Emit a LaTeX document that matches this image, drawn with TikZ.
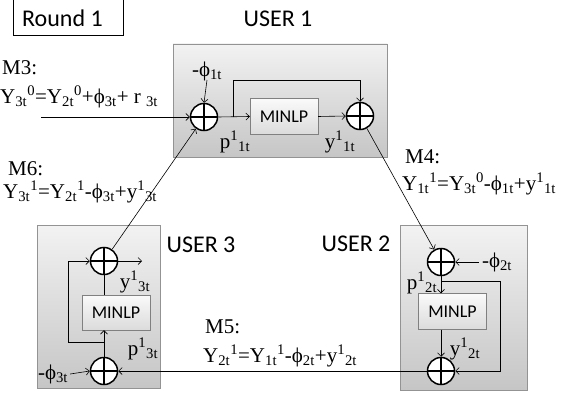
\documentclass[tikz,border=0pt]{standalone}
\usepackage{fontspec}
\setmainfont{Liberation Serif}
\newfontfamily\calibfont{Carlito}
\usetikzlibrary{arrows.meta, positioning, calc}

\begin{document}
\begin{tikzpicture}[x=1pt, y=-1pt]
    % --- Style Definitions ---
    \tikzset{
        % Shaded area of one user
        user box/.style={
            draw=gray!85,
            top color=gray!10,
            bottom color=gray!45,
            inner sep=0pt
        },
        % The solver block
        solver box/.style={
            draw=gray,
            top color=gray!4,
            bottom color=gray!28,
            inner sep=0pt,
            minimum width=68pt,
            minimum height=36pt,
            font=\calibfont\fontsize{18}{20}\selectfont
        },
        % Summing junction (circle with a cross)
        sum node/.style={
            circle,
            draw=black,
            line width=1.5pt,
            fill=white,
            inner sep=0pt,
            minimum size=27pt,
            path picture={
                \draw[line width=1.4pt]
                    (path picture bounding box.north) -- (path picture bounding box.south)
                    (path picture bounding box.west) -- (path picture bounding box.east);
            }
        },
        % Text styling
        user text/.style={
            font=\calibfont\fontsize{24}{28}\selectfont
        },
        var text/.style={
            font=\fontsize{21}{24}\selectfont,
            inner sep=0pt
        },
        eq text/.style={
            font=\fontsize{21}{24}\selectfont,
            inner sep=0pt,
            anchor=base west
        },
        % Connector styling
        flow/.style={
            -{Straight Barb[length=3.5pt, width=7pt]},
            line width=0.6pt
        },
        link/.style={
            line width=0.6pt
        }
    }

    \useasboundingbox (0,0) rectangle (577,393);

    % --- 1. Titles ---
    \node[draw, line width=0.8pt, minimum width=110pt, minimum height=37pt] (roundbox) at (68,16.5) {};
    \node[user text] (roundlbl) at (62.5,18) {Round 1};
    \node[user text] (title1) at (278,19) {USER 1};
    \node[user text] (title2) at (356,244) {USER 2};
    \node[user text] (title3) at (201,245) {USER 3};

    % --- 2. User areas ---
    \node[user box, minimum width=214pt, minimum height=113pt] (user1) at (280,100.5) {};
    \node[user box, minimum width=127pt, minimum height=165pt] (user2) at (463.5,307.5) {};
    \node[user box, minimum width=123pt, minimum height=163pt] (user3) at (98.5,306.5) {};

    % --- 3. User 1 ---
    \node[sum node] (sum11) at (204,117) {};
    \node[solver box] (solver1) at (284,116.5) {MINLP};
    \node[sum node] (sum12) at (360,116) {};
    \node[var text] (phi1) at (207,71) {-ϕ\textsubscript{1t}};
    \node[var text] (p1) at (235,142) {p\textsuperscript{1}\textsubscript{1t}};
    \node[var text] (y1) at (340,142) {y\textsuperscript{1}\textsubscript{1t}};
    \coordinate (split1) at (233,117);
    \coordinate (in3) at (41,117);

    \draw[flow] (phi1.south |- 0,80) -- (sum11.north);
    \draw[flow] (in3) -- (sum11.west);
    \draw[flow] (sum11.east) -- (solver1.west);
    \draw[flow] (solver1.east) -- (sum12.west);
    \draw[flow] (split1) -- (split1 |- 0,80) -| (sum12.north);

    % --- 4. User 2 ---
    \node[sum node] (sum21) at (441,262) {};
    \node[solver box] (solver2) at (452.5,311.5) {MINLP};
    \node[sum node] (sum22) at (441,371) {};
    \node[var text] (phi2) at (497,262) {-ϕ\textsubscript{2t}};
    \node[var text] (p2) at (422,283) {p\textsuperscript{1}\textsubscript{2t}};
    \node[var text] (y2) at (465,349) {y\textsuperscript{1}\textsubscript{2t}};
    \coordinate (split2) at (441,281);

    \draw[flow] (phi2.west) ++(-3,0) -- (sum21.east);
    \draw[flow] (sum21.south) -- (sum21.south |- solver2.north);
    \draw[flow] (sum21.south |- solver2.south) -- (sum22.north);
    \draw[flow] (split2) -| (500,371) -- (sum22.east);

    % --- 5. User 3 ---
    \node[sum node] (sum31) at (104,261) {};
    \node[solver box, minimum height=35pt] (solver3) at (116,312.5) {MINLP};
    \node[sum node] (sum32) at (104,371) {};
    \node[var text] (phi3) at (53,374) {-ϕ\textsubscript{3t}};
    \node[var text] (p3) at (143,349) {p\textsuperscript{1}\textsubscript{3t}};
    \node[var text] (y3) at (135,282) {y\textsuperscript{1}\textsubscript{3t}};
    \coordinate (split3) at (104,342);
    \coordinate (out3) at (142,261);

    \draw[flow] (phi3.east) ++(2,0) -- (sum32.west);
    \draw[flow] (sum32.north) -- (sum32.north |- solver3.south);
    \draw[link] (sum31.south |- solver3.north) -- (sum31.south);
    \draw[flow] (split3) -| (68,261) -- (sum31.west);
    \draw[flow] (sum31.east) -- (out3);

    % --- 6. Messages between users ---
    \draw[flow] (sum12) -- (sum21);
    \draw[flow] (sum22.west) -- (sum32.east);
    \draw[flow] (sum31) -- (sum11);

    \node[eq text] (m3) at (2,75) {M3:};
    \node[eq text] (m3eq) at (0,103) {Y\textsubscript{3t}\textsuperscript{0}=Y\textsubscript{2t}\textsuperscript{0}+ϕ\textsubscript{3t}+ r \textsubscript{3t}};
    \node[eq text] (m6) at (8,175) {M6:};
    \node[eq text] (m6eq) at (3,198) {Y\textsubscript{3t}\textsuperscript{1}=Y\textsubscript{2t}\textsuperscript{1}-ϕ\textsubscript{3t}+y\textsuperscript{1}\textsubscript{3t}};
    \node[eq text] (m4) at (405,163) {M4:};
    \node[eq text] (m4eq) at (402,190) {Y\textsubscript{1t}\textsuperscript{1}=Y\textsubscript{3t}\textsuperscript{0}-ϕ\textsubscript{1t}+y\textsuperscript{1}\textsubscript{1t}};
    \node[eq text] (m5) at (205,333) {M5:};
    \node[eq text] (m5eq) at (203,362) {Y\textsubscript{2t}\textsuperscript{1}=Y\textsubscript{1t}\textsuperscript{1}-ϕ\textsubscript{2t}+y\textsuperscript{1}\textsubscript{2t}};

\end{tikzpicture}
\end{document}
